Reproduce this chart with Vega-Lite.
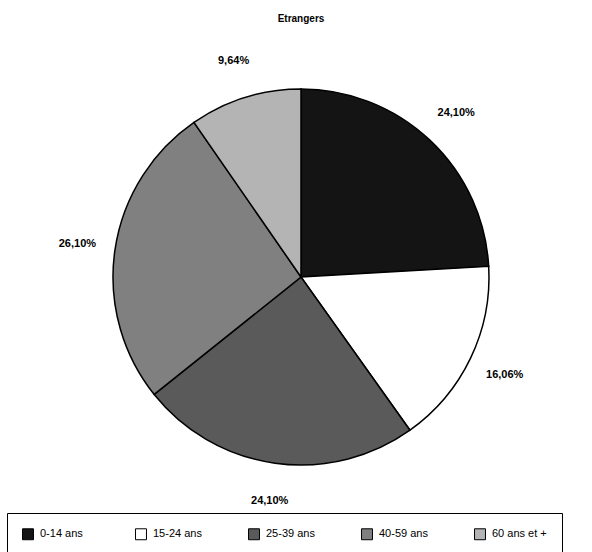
{
  "$schema": "https://vega.github.io/schema/vega-lite/v6.json",
  "autosize": "none",
  "width": 582,
  "height": 474,
  "padding": {"top": 40, "left": 10, "right": 0, "bottom": 38},
  "background": "white",
  "title": {"text": "Etrangers", "font": "Liberation Sans", "fontSize": 10, "fontWeight": "bold", "anchor": "middle", "offset": 16, "color": "black"},
  "data": {"values": [
    {"age": "0-14 ans", "pct": 24.10, "label": "24,10%"},
    {"age": "15-24 ans", "pct": 16.06, "label": "16,06%"},
    {"age": "25-39 ans", "pct": 24.10, "label": "24,10%"},
    {"age": "40-59 ans", "pct": 26.10, "label": "26,10%"},
    {"age": "60 ans et +", "pct": 9.64, "label": "9,64%"}
  ]},
  "encoding": {
    "theta": {"field": "pct", "type": "quantitative", "stack": true},
    "order": {"field": "age", "type": "ordinal"}
  },
  "layer": [
    {
      "mark": {"type": "arc", "outerRadius": 188, "stroke": "black", "strokeWidth": 1.5},
      "encoding": {
        "color": {
          "field": "age", "type": "nominal",
          "scale": {"domain": ["0-14 ans", "15-24 ans", "25-39 ans", "40-59 ans", "60 ans et +"], "range": ["#141414", "#ffffff", "#5a5a5a", "#808080", "#b4b4b4"]},
          "legend": {
            "title": null, "orient": "none", "legendX": -3, "legendY": 473, "direction": "horizontal", "columns": 5, "gridAlign": "all",
            "columnPadding": 38, "symbolType": "square", "symbolSize": 120, "symbolStrokeColor": "black", "symbolStrokeWidth": 1,
            "labelFont": "Liberation Sans", "labelFontSize": 11, "labelColor": "black", "labelOffset": 6,
            "strokeColor": "black", "padding": 15, "fillColor": "white"
          }
        }
      }
    },
    {
      "mark": {"type": "text", "radius": 226, "font": "Liberation Sans", "fontSize": 11, "fontWeight": "bold", "color": "black"},
      "encoding": {"text": {"field": "label", "type": "nominal"}}
    }
  ]
}
